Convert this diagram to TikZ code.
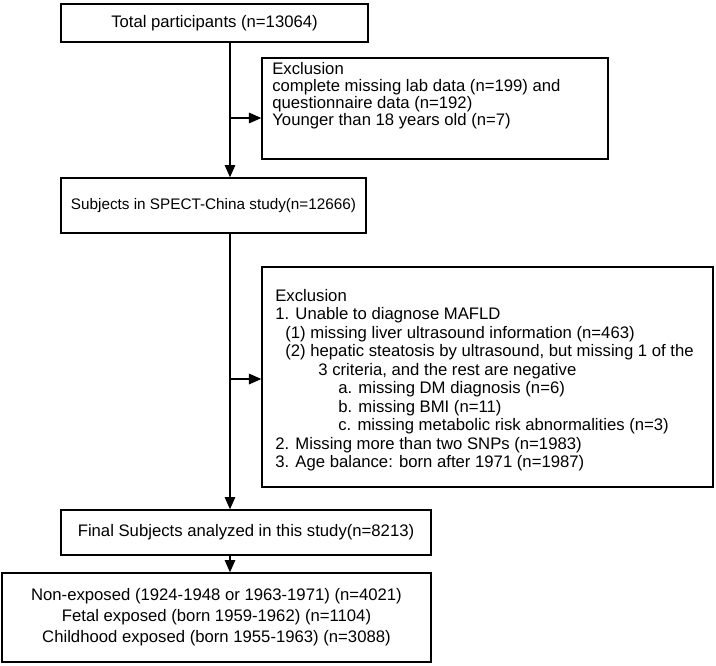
\documentclass[tikz,border=0pt]{standalone}
\usepackage{fontspec}
\setmainfont{Liberation Sans}
\usetikzlibrary{arrows.meta}
\begin{document}
\begin{tikzpicture}[
    box/.style={draw, thick, inner sep=0pt, font=\fontsize{9.5}{11.5}\selectfont},
    flow/.style={thick, -{Triangle[length=7pt, width=6pt]}}
  ]
  \useasboundingbox (0,0) rectangle (14.32,-13.3);
  % main boxes
  \node[box, minimum width=6.14cm, minimum height=0.76cm] (total) at (4.29,-0.46) {Total participants (n=13064)};
  \node[box, minimum width=6.92cm, minimum height=2.02cm] (excl1) at (8.7,-2.17) {};
  \node[box, minimum width=6.10cm, minimum height=1.10cm, font=\fontsize{8.7}{10}\selectfont] (spect) at (4.27,-4.11) {Subjects in SPECT-China study(n=12666)};
  \node[box, minimum width=9.02cm, minimum height=4.40cm] (excl2) at (9.75,-7.54) {};
  \node[box, minimum width=7.40cm, minimum height=0.90cm] (final) at (4.92,-10.65) {Final Subjects analyzed in this study(n=8213)};
  \node[box, minimum width=8.58cm, minimum height=1.78cm, align=center,
        font=\fontsize{9.5}{12}\selectfont] (groups) at (4.33,-12.35)
    {Non-exposed (1924-1948 or 1963-1971) (n=4021)\\
     Fetal exposed (born 1959-1962) (n=1104)\\
     Childhood exposed (born 1955-1963) (n=3088)};

  % exclusion texts
  \node[anchor=north west, align=left, inner sep=0pt,
        font=\fontsize{9.5}{9.6}\selectfont] (excl1txt) at (5.44,-1.25)
    {Exclusion\\
     complete missing lab data (n=199) and\\
     questionnaire data (n=192)\\
     Younger than 18 years old (n=7)};
  \node[anchor=north west, align=left, inner sep=0pt,
        font=\fontsize{9.5}{10.5}\selectfont] (excl2txt) at (5.50,-5.78)
    {Exclusion\\
     1. Unable to diagnose MAFLD\\
     \hspace*{0.2cm}(1) missing liver ultrasound information (n=463)\\
     \hspace*{0.2cm}(2) hepatic steatosis by ultrasound, but missing 1 of the\\
     \hspace*{0.86cm}3 criteria, and the rest are negative\\
     \hspace*{1.26cm}a. missing DM diagnosis (n=6)\\
     \hspace*{1.26cm}b. missing BMI (n=11)\\
     \hspace*{1.26cm}c. missing metabolic risk abnormalities (n=3)\\
     2. Missing more than two SNPs (n=1983)\\
     3. Age balance: born after 1971 (n=1987)};

  % connectors
  \coordinate (br1) at (4.6,-2.36);
  \coordinate (br2) at (4.6,-7.58);
  \draw[flow] (total.south -| br1) -- (spect.north -| br1);
  \draw[flow] (spect.south -| br1) -- (final.north -| br1);
  \draw[flow] (final.south -| br1) -- (groups.north -| br1);
  \draw[flow] (br1) -- (br1 -| excl1.west);
  \draw[flow] (br2) -- (br2 -| excl2.west);
\end{tikzpicture}
\end{document}
